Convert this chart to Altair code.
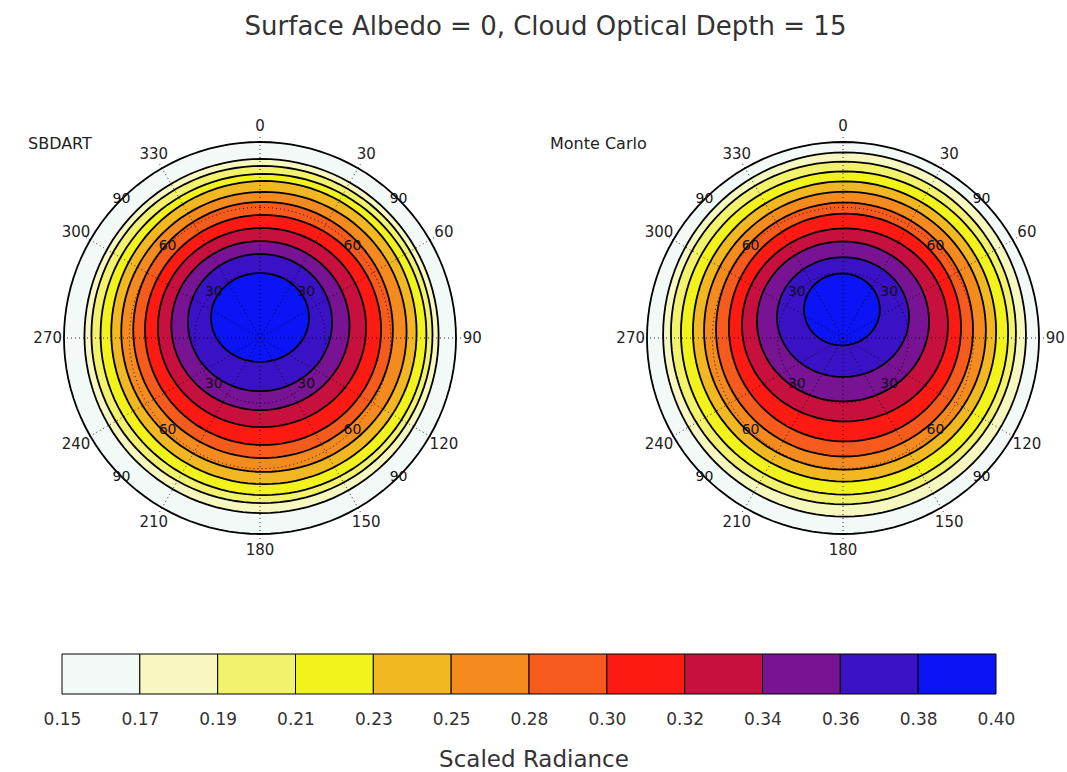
import numpy as np
import pandas as pd
import altair as alt

# ---------------- data ----------------
TITLE = "Surface Albedo = 0, Cloud Optical Depth = 15"
PANEL_NAMES = ["SBDART", "Monte Carlo"]
AXIS_TITLE = "Scaled Radiance"
LEVEL_LABELS = ["0.15", "0.17", "0.19", "0.21", "0.23", "0.25", "0.28",
                "0.30", "0.32", "0.34", "0.36", "0.38", "0.40"]
BAND_COLORS = ["#f3f9f7", "#f7f7c0", "#f2f26c", "#f3f31c", "#f2b822", "#f58a1f",
               "#f65a1c", "#fd1a12", "#c8103f", "#781394", "#3a12c6", "#0b14f5"]

# contour ellipses, zenith degrees, for levels 0.17 ... 0.38 (outer to inner)
SB_DX = [0.7, 0.9, 1.6, 1.8, 1.8, 1.4, 1.4, 0.9, 0.2, 0.0, 0.0]
SB_DY = [0.9, 1.6, 1.6, 2.5, 2.8, 3.7, 3.7, 4.8, 5.7, 7.1, 9.4]
SB_RX = [81.3, 78.3, 74.8, 70.1, 65.5, 59.6, 54.2, 47.8, 40.9, 33.1, 22.5]
SB_RY = [81.3, 77.4, 73.7, 69.6, 64.3, 58.8, 52.8, 45.7, 38.8, 31.5, 20.4]

MC_DX = [0.7, 0.2, 0.7, 0.7, 0.9, 0.7, 0.9, 0.9, 0.0, 0.0, -0.5]
MC_DY = [1.6, 2.3, 2.3, 3.0, 3.4, 3.9, 4.8, 6.0, 7.6, 9.6, 13.1]
MC_RX = [83.3, 79.2, 75.1, 69.6, 64.7, 59.0, 53.3, 47.3, 39.5, 30.3, 17.4]
MC_RY = [83.6, 78.7, 74.2, 68.9, 63.8, 58.3, 52.3, 44.3, 36.7, 27.5, 16.5]

OUTER_ZENITH = 90.0
AZIMUTHS = list(range(0, 360, 30))
ZENITH_RINGS = [30, 60]
ZENITH_LABELS = [30, 60, 90]
LABEL_DIAGONALS = [45, 135, 225, 315]

# ---------------- layout ----------------
FONT = "DejaVu Sans"
PX = 2.178                 # pixels per zenith degree
LEFT_W, RIGHT_W, GAP = 530, 527, 10
LEFT_CX, RIGHT_CX = 260, 303   # circle centre inside each panel (px)
PANEL_H = 556
CY = 288                   # circle centre from panel top (px)
VSP = 47
CB_W, CB_H = 1067, 40
CB_LEFT, CB_RIGHT = 62, 996
AZ_LABEL_R = 97.5
AZ_LINE_R = 93.0
NAME_LIFT = 194            # panel name sits this many px above circle centre
NAME_INSET = [28, 10]      # panel name left inset inside each panel (px)

theta = np.radians(np.arange(0, 361, 3))


def ellipse(dx, dy, rx, ry, rev=False):
    t = theta[::-1] if rev else theta
    return dx + rx * np.sin(t), dy + ry * np.cos(t)


def panel(name, dxs, dys, rxs, rys, cx_px, width, inset):
    contours = [(0.0, 0.0, OUTER_ZENITH, OUTER_ZENITH)] + list(zip(dxs, dys, rxs, rys))

    fill_rows = []
    for k in range(len(BAND_COLORS)):
        ox, oy = ellipse(*contours[k])
        xs, ys = list(ox), list(oy)
        if k + 1 < len(contours):
            ix, iy = ellipse(*contours[k + 1], rev=True)
            xs += list(ix)
            ys += list(iy)
        for i, (a, b) in enumerate(zip(xs, ys)):
            fill_rows.append({"band": k, "i": i, "x": a, "y": b})
    fill_df = pd.DataFrame(fill_rows)

    line_rows = []
    for c, ct in enumerate(contours):
        lx, ly = ellipse(*ct)
        for i, (a, b) in enumerate(zip(lx, ly)):
            line_rows.append({"c": c, "i": i, "x": a, "y": b})
    line_df = pd.DataFrame(line_rows)

    grid_rows = []
    for r in ZENITH_RINGS:
        gx, gy = ellipse(0, 0, r, r)
        for i, (a, b) in enumerate(zip(gx, gy)):
            grid_rows.append({"r": r, "i": i, "x": a, "y": b})
    grid_df = pd.DataFrame(grid_rows)

    az = np.radians(AZIMUTHS)
    rad_df = pd.DataFrame({"x0": 0.0, "y0": 0.0,
                           "x1": AZ_LINE_R * np.sin(az), "y1": AZ_LINE_R * np.cos(az)})
    azlab_df = pd.DataFrame({"x": AZ_LABEL_R * np.sin(az), "y": AZ_LABEL_R * np.cos(az),
                             "lab": [str(a) for a in AZIMUTHS]})
    zl = []
    for z in ZENITH_LABELS:
        for d in LABEL_DIAGONALS:
            zl.append({"x": z * np.sin(np.radians(d)), "y": z * np.cos(np.radians(d)),
                       "lab": str(z)})
    zlab_df = pd.DataFrame(zl)

    name_df = pd.DataFrame({"x": [(inset - cx_px) / PX], "y": [NAME_LIFT / PX],
                            "lab": [name]})

    xsc = alt.Scale(domain=[-cx_px / PX, (width - cx_px) / PX], nice=False, zero=False)
    ysc = alt.Scale(domain=[-(PANEL_H - CY) / PX, CY / PX], nice=False, zero=False)
    X = alt.X("x:Q", scale=xsc, axis=None)
    Y = alt.Y("y:Q", scale=ysc, axis=None)

    fills = alt.Chart(fill_df).mark_line(strokeWidth=0, interpolate="linear").encode(
        x=X, y=Y, order=alt.Order("i:Q"), detail="band:N",
        fill=alt.Fill("band:N", scale=alt.Scale(domain=list(range(len(BAND_COLORS))),
                                                range=BAND_COLORS), legend=None))
    grid = alt.Chart(grid_df).mark_line(color="black", strokeWidth=1, strokeDash=[1, 3],
                                        opacity=0.8).encode(
        x=X, y=Y, order=alt.Order("i:Q"), detail="r:N")
    rad = alt.Chart(rad_df).mark_rule(color="black", strokeWidth=1, strokeDash=[1, 3],
                                      opacity=0.8).encode(
        x=alt.X("x0:Q", scale=xsc, axis=None), y=alt.Y("y0:Q", scale=ysc, axis=None),
        x2="x1:Q", y2="y1:Q")
    lines = alt.Chart(line_df).mark_line(color="black", strokeWidth=1.8).encode(
        x=X, y=Y, order=alt.Order("i:Q"), detail="c:N")
    azlab = alt.Chart(azlab_df).mark_text(font=FONT, fontSize=15, color="#222222").encode(
        x=X, y=Y, text="lab:N")
    zlab = alt.Chart(zlab_df).mark_text(font=FONT, fontSize=14, color="#111111").encode(
        x=X, y=Y, text="lab:N")
    nlab = alt.Chart(name_df).mark_text(font=FONT, fontSize=16, color="#222222",
                                        align="left").encode(x=X, y=Y, text="lab:N")
    return alt.layer(fills, grid, rad, lines, zlab, azlab, nlab).properties(
        width=width, height=PANEL_H)


left = panel(PANEL_NAMES[0], SB_DX, SB_DY, SB_RX, SB_RY, LEFT_CX, LEFT_W, NAME_INSET[0])
right = panel(PANEL_NAMES[1], MC_DX, MC_DY, MC_RX, MC_RY, RIGHT_CX, RIGHT_W, NAME_INSET[1])

# ---------------- colour bar ----------------
nb = len(BAND_COLORS)
B = (CB_RIGHT - CB_LEFT) / nb
cb_df = pd.DataFrame({"lo": list(range(nb)), "hi": list(range(1, nb + 1)),
                      "band": list(range(nb))})
label_expr = "[" + ",".join("'%s'" % s for s in LEVEL_LABELS) + "][datum.value]"
cbar = alt.Chart(cb_df).mark_rect(stroke="black", strokeWidth=1).encode(
    x=alt.X("lo:Q",
            scale=alt.Scale(domain=[-CB_LEFT / B, (CB_W - CB_LEFT) / B], nice=False, zero=False),
            axis=alt.Axis(values=list(range(nb + 1)), labelExpr=label_expr, ticks=False,
                          domain=False, grid=False, labelFont=FONT, labelFontSize=17,
                          labelPadding=17, labelColor="#333333", labelFlush=False,
                          labelOverlap=False, title=AXIS_TITLE, titleFont=FONT,
                          titleFontSize=23, titleFontWeight="normal", titleColor="#333333",
                          titlePadding=21)),
    x2="hi:Q",
    fill=alt.Fill("band:N", scale=alt.Scale(domain=list(range(nb)), range=BAND_COLORS),
                  legend=None),
).properties(width=CB_W, height=CB_H)

chart = alt.vconcat(
    alt.hconcat(left, right, spacing=GAP),
    cbar,
    spacing=VSP,
).properties(
    title=alt.TitleParams(TITLE, fontSize=26, font=FONT, fontWeight="normal",
                          color="#333333", anchor="middle", dx=12, offset=10),
    padding={"left": 0, "right": 0, "top": 14, "bottom": 0},
).configure_view(strokeWidth=0)

chart.save("out.html", embed_options={"renderer": "svg", "actions": False})
